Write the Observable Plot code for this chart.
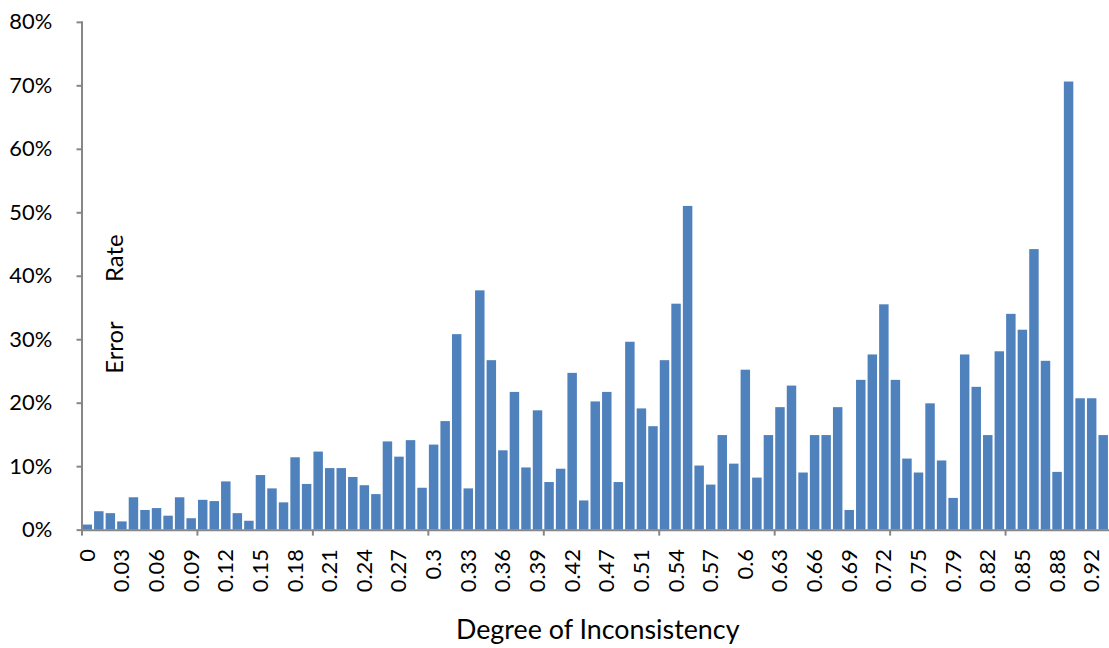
<!DOCTYPE html>
<html><head><meta charset="utf-8">
<script src="https://cdn.jsdelivr.net/npm/d3@7"></script>
<script src="https://cdn.jsdelivr.net/npm/@observablehq/plot@0.6"></script>
<style>
body{margin:0;overflow:hidden;background:#fff;}
#chart{position:relative;width:1109px;height:648px;overflow:hidden;}
g[aria-label="y-axis tick"], g[aria-label="x-axis tick"]{stroke:#868686;stroke-width:2px;}
g.ytitle text{word-spacing:34px;}
</style></head><body><div id="chart"></div>
<script>
const categories = [
  "0","0.01","0.02","0.03","0.04","0.05","0.06","0.07","0.08","0.09",
  "0.1","0.11","0.12","0.13","0.14","0.15","0.16","0.17","0.18","0.19",
  "0.2","0.21","0.22","0.23","0.24","0.25","0.26","0.27","0.28","0.29",
  "0.3","0.31","0.32","0.33","0.34","0.35","0.36","0.37","0.38","0.39",
  "0.4","0.41","0.42","0.43","0.45","0.47","0.48","0.49","0.51","0.52",
  "0.53","0.54","0.55","0.56","0.57","0.58","0.59","0.6","0.61","0.62",
  "0.63","0.64","0.65","0.66","0.67","0.68","0.69","0.7","0.71","0.72",
  "0.73","0.74","0.75","0.76","0.78","0.79","0.8","0.81","0.82","0.83",
  "0.84","0.85","0.86","0.87","0.88","0.89","0.9","0.92","0.93"
];
const errorRatePct = [
  0.8, 2.9, 2.6, 1.3, 5.1, 3.1, 3.4, 2.2, 5.1, 1.8,
  4.7, 4.5, 7.6, 2.6, 1.4, 8.6, 6.5, 4.3, 11.4, 7.2,
  12.3, 9.7, 9.7, 8.3, 7.0, 5.6, 13.9, 11.5, 14.1, 6.6,
  13.4, 17.1, 30.8, 6.5, 37.7, 26.7, 12.5, 21.7, 9.8, 18.8,
  7.5, 9.6, 24.7, 4.6, 20.2, 21.7, 7.5, 29.6, 19.1, 16.3,
  26.7, 35.6, 51.0, 10.1, 7.1, 14.9, 10.4, 25.2, 8.2, 14.9,
  19.3, 22.7, 9.0, 14.9, 14.9, 19.3, 3.1, 23.6, 27.6, 35.5,
  23.6, 11.2, 9.0, 19.9, 10.9, 5.0, 27.6, 22.5, 14.9, 28.1,
  34.0, 31.5, 44.2, 26.6, 9.1, 70.6, 20.7, 20.7, 14.9
];
const labeledCategories = ["0","0.03","0.06","0.09","0.12","0.15","0.18","0.21","0.24","0.27","0.3","0.33","0.36","0.39","0.42","0.47","0.51","0.54","0.57","0.6","0.63","0.66","0.69","0.72","0.75","0.79","0.82","0.85","0.88","0.92"];
const tickMarkCategories = ["0","0.1","0.2","0.3","0.4","0.53","0.63","0.73","0.84"];
const yTicks = [0,0.1,0.2,0.3,0.4,0.5,0.6,0.7,0.8];
const xTitle = "Degree of Inconsistency";
const yTitle = "Error Rate";

const data = categories.map((c, i) => ({c, v: errorRatePct[i] / 100}));
const W = 1116, ML = 82;
const step = (W - ML) / categories.length;

const chart = Plot.plot({
  width: W, height: 648,
  marginLeft: ML, marginRight: 0, marginTop: 22, marginBottom: 115,
  style: {fontFamily: "Lato, sans-serif", fontSize: "21px", color: "#000", background: "#fff", overflow: "visible"},
  x: {domain: categories, paddingInner: 0.18, paddingOuter: 0.09, axis: null},
  y: {domain: [0, 0.8], axis: null},
  marks: [
    Plot.barY(data, {x: "c", y: "v", fill: "#4f81bd"}),
    Plot.frame({anchor: "left", stroke: "#868686", strokeWidth: 2}),
    Plot.ruleY([0], {stroke: "#868686", strokeWidth: 2}),
    Plot.axisY({ticks: yTicks, tickFormat: d3.format(".0%"), tickSize: 5, tickPadding: 25, label: null, fontSize: 22}),
    Plot.axisX({ticks: labeledCategories, tickSize: 0, tickRotate: -90, tickPadding: 19, label: null, fontSize: 22}),
    Plot.axisX({ticks: tickMarkCategories, tickSize: 6, dx: -step / 2, tickFormat: () => "", label: null}),
    Plot.text([xTitle], {frameAnchor: "bottom", textAnchor: "middle", lineAnchor: "middle", dx: 2, dy: 101, fontSize: 27}),
    Plot.text([yTitle], {frameAnchor: "left", textAnchor: "middle", rotate: -90, dx: 34, dy: 28, fontSize: 24, className: "ytitle"})
  ]
});
document.getElementById("chart").appendChild(chart);
</script></body></html>
